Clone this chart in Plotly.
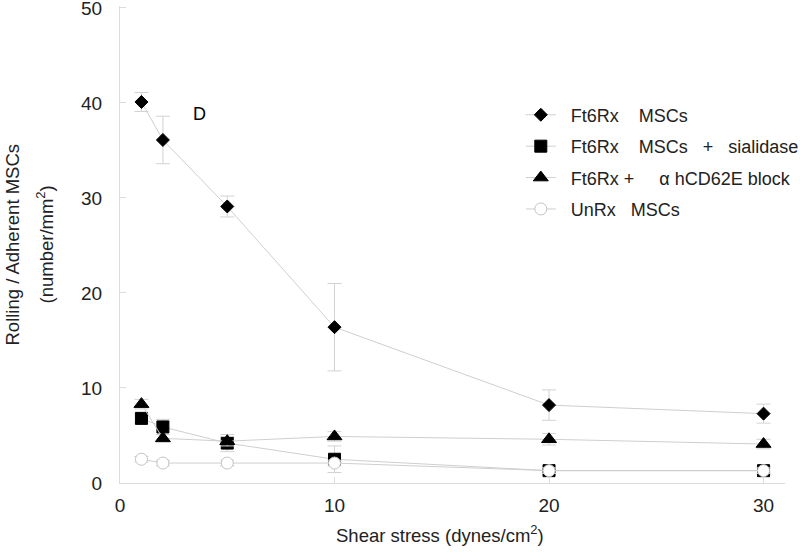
import plotly.graph_objects as go

shear = [1, 2, 5, 10, 20, 30]

ft6rx = [40.1, 36.1, 29.1, 16.4, 8.2, 7.3]
ft6rx_err = [1.0, 2.5, 1.1, 4.6, 1.6, 1.0]

sialidase = [6.8, 5.9, 4.2, 2.5, 1.3, 1.3]
sialidase_err = [0.5, 0.8, 0.9, 1.4, 0.4, 0.4]

block = [8.3, 4.7, 4.4, 4.9, 4.6, 4.1]
block_err = [0.5, 0.4, 0.5, 0.5, 0.6, 0.5]

unrx = [2.5, 2.1, 2.1, 2.1, 1.3, 1.3]
unrx_err = [0.3, 0.3, 0.3, 0.3, 0.3, 0.3]

NB = "\u00a0"
names = [
    NB * 2 + "Ft6Rx" + NB * 4 + "MSCs",
    NB * 2 + "Ft6Rx" + NB * 4 + "MSCs" + NB * 3 + "+" + NB * 3 + "sialidase",
    NB * 2 + "Ft6Rx +" + NB * 5 + "\u03b1" + NB + "hCD62E block",
    NB * 2 + "UnRx" + NB * 3 + "MSCs",
]

line_col = "#cfcfcf"
err_col = "#d2d2d2"
FONT = "Liberation Sans, Arial, sans-serif"

fig = go.Figure()

series = [
    (ft6rx, ft6rx_err, "diamond", 10, "black", "black"),
    (sialidase, sialidase_err, "square", 12, "black", "black"),
    (block, block_err, "triangle-up", 13, "black", "black"),
    (unrx, unrx_err, "circle", 12, "white", "#c4c4c4"),
]

for i, ((vals, errs, sym, sz, fill, mline), nm) in enumerate(zip(series, names)):
    fig.add_trace(go.Scatter(
        x=shear, y=vals, name=nm, mode="lines+markers", legendgroup=f"g{i}",
        line=dict(color=line_col, width=1),
        marker=dict(symbol=sym, size=sz, color=fill,
                    line=dict(color=mline, width=1)),
        error_y=dict(type="data", array=errs, visible=True,
                     color=err_col, thickness=1, width=7),
    ))

fig.add_annotation(x=3.7, y=38.8, xref="x", yref="y", text="D",
                   showarrow=False, font=dict(size=18, color="black", family=FONT))

fig.add_annotation(x=0, y=0.5, xref="paper", yref="paper", xanchor="center",
                   text="Rolling / Adherent MSCs", textangle=-90, showarrow=False,
                   xshift=-108, font=dict(size=18.5, color="#222", family=FONT))
fig.add_annotation(x=0, y=0.5, xref="paper", yref="paper", xanchor="center",
                   text="(number/mm<sup>2</sup>)", textangle=-90, showarrow=False,
                   xshift=-75, font=dict(size=18.5, color="#222", family=FONT))
fig.add_annotation(x=(440 - 120) / 665, y=0, xref="paper", yref="paper",
                   xanchor="center", yanchor="middle", yshift=-51,
                   text="Shear stress (dynes/cm<sup>2</sup>)", showarrow=False,
                   font=dict(size=18.5, color="#222", family=FONT))

axis_common = dict(
    showline=True, linecolor="#dcdcdc", linewidth=1,
    ticks="inside", ticklen=6, tickcolor="#dcdcdc",
    showgrid=False, zeroline=False, automargin=False,
    ticklabeloverflow="allow",
    tickfont=dict(size=19, color="#222", family=FONT),
)

fig.update_layout(
    width=800, height=555,
    margin=dict(l=120, r=15, t=6, b=72, autoexpand=False),
    paper_bgcolor="white", plot_bgcolor="white",
    font=dict(family=FONT, color="#222"),
    showlegend=True,
    legend=dict(x=0.651, y=0.826, xref="container", yref="container",
                xanchor="left", yanchor="top",
                bgcolor="rgba(0,0,0,0)", font=dict(size=18, color="#222", family=FONT),
                tracegroupgap=5),
    xaxis=dict(range=[0, 31], tickvals=[0, 10, 20, 30], ticklabelstandoff=5,
               **axis_common),
    yaxis=dict(range=[0, 50.2], tickvals=[0, 10, 20, 30, 40, 50],
               ticklabelstandoff=13, **axis_common),
)

fig.write_html("out.html", config={"displayModeBar": False},
               post_script="document.body.style.margin='0';document.body.style.overflow='hidden';")
